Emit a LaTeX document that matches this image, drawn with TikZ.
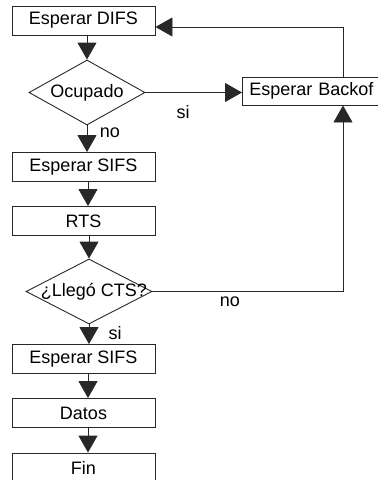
\documentclass[tikz,border=0pt]{standalone}
\usepackage{fontspec}
\setmainfont{Liberation Sans}
\usetikzlibrary{arrows.meta, shapes.geometric}
\definecolor{linea}{RGB}{40, 40, 40}

\begin{document}
\begin{tikzpicture}[x=1pt, y=-1pt,
    font=\fontsize{18}{21}\selectfont,
    caja/.style={draw=linea, line width=0.9pt, minimum width=143pt, minimum height=29pt, inner sep=0pt},
    decision/.style={draw=linea, line width=0.9pt, shape=diamond, minimum height=65pt, inner sep=0pt},
    flecha/.style={draw=linea, line width=0.9pt, -{Triangle[width=19pt,length=17pt]}}]
  \useasboundingbox (0,0) rectangle (378,480);
  % Main column
  \node[caja] (difs) at (83.5,20.5) {Esperar DIFS};
  \node[decision, minimum width=116pt, label=center:Ocupado] (ocup) at (87,92.5) {};
  \node[caja] (sifsa) at (83.5,167) {Esperar SIFS};
  \node[caja] (rts) at (83.5,221) {RTS};
  \node[decision, minimum width=126pt, label={[xshift=5pt]center:¿Llegó CTS?}] (cts) at (89,291.5) {};
  \node[caja] (sifsb) at (83.5,359) {Esperar SIFS};
  \node[caja] (datos) at (83.5,413) {Datos};
  \node[caja] (fin) at (83.5,467.5) {Fin};
  % Backoff branch
  \node[caja, anchor=west, minimum height=28pt, text width=150pt, align=left, inner xsep=7pt] (backoff) at (242,91) {Esperar Backof};
  \coordinate (eje) at (88,0);
  \coordinate (vuelta) at (343,27);
  \coordinate (ladoder) at (343,0);
  % Connectors
  \draw[flecha] (difs.south -| ocup.north) -- (ocup.north);
  \draw[flecha] (ocup.south) -- (sifsa.north -| ocup.south);
  \draw[flecha] (sifsa.south -| eje) -- (rts.north -| eje);
  \draw[flecha] (rts.south -| cts.north) -- (cts.north);
  \draw[flecha] (cts.south) -- (sifsb.north -| cts.south);
  \draw[flecha] (sifsb.south -| eje) -- (datos.north -| eje);
  \draw[flecha] (datos.south -| eje) -- (fin.north -| eje);
  \draw[flecha] (ocup.east) -- (ocup.east -| backoff.west);
  \draw[flecha] (backoff.north -| vuelta) -- (vuelta) -- (difs.east |- vuelta);
  \draw[flecha] (cts.east) -| (backoff.south -| ladoder);
  % Labels
  \node (siocup) at (183,112) {si};
  \node (noocup) at (110,133) {no};
  \node (sicts) at (115,333) {si};
  \node (nocts) at (230,302) {no};
\end{tikzpicture}
\end{document}
